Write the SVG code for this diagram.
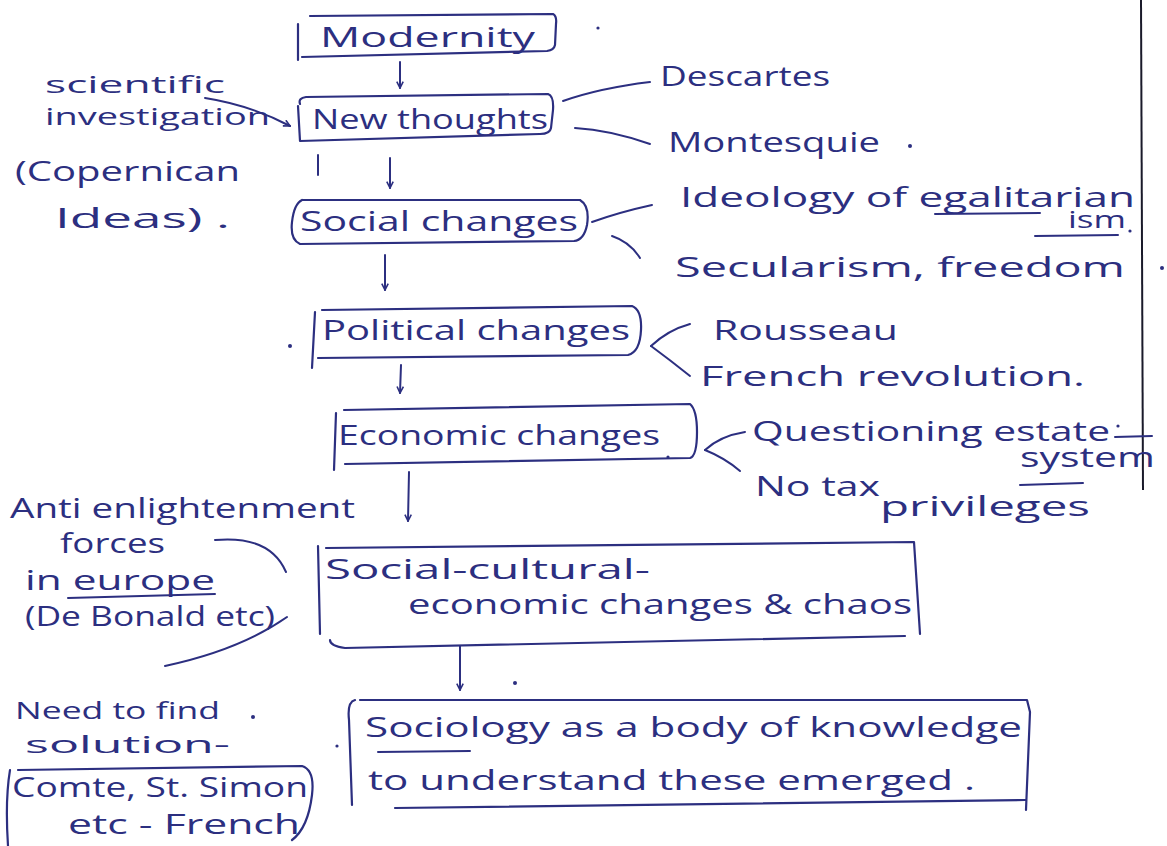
<svg xmlns="http://www.w3.org/2000/svg" width="1167" height="846" viewBox="0 0 1167 846">
<style>
.t{font-family:"Open Sans","Liberation Sans",sans-serif;fill:#2c2f80;font-size:28px;}
.s{font-size:24px;}
.m{font-size:24px;}
.b{fill:none;stroke:#2c2f80;stroke-width:2.2;stroke-linecap:round;stroke-linejoin:round;}
.c{fill:none;stroke:#2c2f80;stroke-width:2;stroke-linecap:round;}
.d{fill:#2c2f80;}
</style>
<defs>
<marker id="ah" viewBox="0 0 10 10" refX="9" refY="5" markerWidth="8" markerHeight="8" orient="auto-start-reverse" markerUnits="userSpaceOnUse">
<path d="M1,1 L9,5 L1,9" fill="none" stroke="#2c2f80" stroke-width="2"/>
</marker>
</defs>
<rect width="1167" height="846" fill="#ffffff"/>
<line x1="1141" y1="0" x2="1143" y2="490" stroke="#1a1a2a" stroke-width="2"/>

<g id="connectors">
<path class="c" d="M400,62 L400,88" marker-end="url(#ah)"/>
<path class="c" d="M390,158 L390,188" marker-end="url(#ah)"/>
<path class="c" d="M318,155 L318,175"/>
<path class="c" d="M385,255 L385,290" marker-end="url(#ah)"/>
<path class="c" d="M401,365 L400,393" marker-end="url(#ah)"/>
<path class="c" d="M409,472 L408,521" marker-end="url(#ah)"/>
<path class="c" d="M460,646 L460,690" marker-end="url(#ah)"/>
<path class="c" d="M563,101 Q600,88 650,82"/>
<path class="c" d="M575,128 Q610,130 650,144"/>
<path class="c" d="M592,222 Q620,212 652,205"/>
<path class="c" d="M612,236 Q630,242 640,258"/>
<path class="c" d="M651,346 Q668,330 690,324"/>
<path class="c" d="M651,346 Q670,360 690,376"/>
<path class="c" d="M705,450 Q720,436 745,432"/>
<path class="c" d="M705,450 Q725,458 740,471"/>
<path class="c" d="M205,98 Q250,105 290,126" marker-end="url(#ah)"/>
<path class="c" d="M215,540 Q270,535 286,572"/>
<path class="c" d="M165,666 Q240,650 287,617"/>
</g>

<g id="modernity">
<path class="b" d="M298,24 L298,60 M310,16 L553,14 Q557,16 556,24 L555,45 Q554,50 547,51 L302,57"/>
<text class="t" x="320" y="47" textLength="215" lengthAdjust="spacingAndGlyphs">Modernity</text>
</g>
<g id="new-thoughts">
<path class="b" d="M300,104 Q298,98 306,97 L548,94 Q554,96 553,110 L551,128 Q550,134 540,134 L300,141 L298,106"/>
<text class="t" x="312" y="129" textLength="236" lengthAdjust="spacingAndGlyphs">New thoughts</text>
</g>
<g id="social-changes">
<path class="b" d="M302,200 L580,200 Q590,206 587,225 Q584,240 574,241 L300,244 Q290,240 292,222 Q294,204 302,200"/>
<text class="t" x="300" y="231" textLength="278" lengthAdjust="spacingAndGlyphs">Social changes</text>
</g>
<g id="political-changes">
<path class="b" d="M315,312 L312,368 M322,310 L632,306 Q642,310 641,330 Q640,352 628,355 L318,358"/>
<circle class="d" cx="290" cy="346" r="2"/>
<text class="t" x="322" y="340" textLength="308" lengthAdjust="spacingAndGlyphs">Political changes</text>
</g>
<g id="economic-changes">
<path class="b" d="M336,413 L334,470 M344,410 L690,404 Q697,410 697,432 Q697,456 690,458 L345,464"/>
<text class="t" x="338" y="445" textLength="322" lengthAdjust="spacingAndGlyphs">Economic changes</text>
<circle class="d" cx="668" cy="457" r="1.6"/>
</g>
<g id="social-cultural-economic">
<path class="b" d="M318,546 L320,634 M326,548 L914,542 L920,634 M905,636 L345,648 Q330,646 330,640"/>
<text class="t" x="325" y="579" textLength="325" lengthAdjust="spacingAndGlyphs">Social-cultural-</text>
<text class="t" x="408" y="614" textLength="504" lengthAdjust="spacingAndGlyphs">economic changes &amp; chaos</text>
</g>
<g id="sociology">
<path class="b" d="M355,700 Q347,702 349,720 L352,805 M360,700 L1027,700 L1030,712 L1026,810 M1025,800 L395,808"/>
<path class="c" d="M378,752 L470,751"/>
<circle class="d" cx="515" cy="683" r="2"/>
<circle class="d" cx="337" cy="746" r="1.6"/>
<text class="t" x="365" y="737" textLength="657" lengthAdjust="spacingAndGlyphs">Sociology as a body of knowledge</text>
<text class="t" x="368" y="790" textLength="607" lengthAdjust="spacingAndGlyphs">to understand these emerged .</text>
</g>
<g id="comte">
<path class="b" d="M10,770 Q5,800 8,846 M18,770 L302,766 Q315,770 312,795 Q308,828 292,840"/>
<text class="t" x="12" y="797" textLength="296" lengthAdjust="spacingAndGlyphs">Comte, St. Simon</text>
<text class="t" x="68" y="834" textLength="232" lengthAdjust="spacingAndGlyphs">etc - French</text>
</g>

<g id="notes-right">
<text class="t" x="660" y="86" textLength="170" lengthAdjust="spacingAndGlyphs">Descartes</text>
<text class="t" x="668" y="152" textLength="212" lengthAdjust="spacingAndGlyphs">Montesquie</text>
<circle class="d" cx="910" cy="146" r="2"/>
<circle class="d" cx="598" cy="28" r="1.6"/>
<text class="t" x="680" y="207" textLength="455" lengthAdjust="spacingAndGlyphs">Ideology of egalitarian</text>
<path class="c" d="M935,214 L1040,213"/>
<text class="t s" x="1068" y="228" textLength="58" lengthAdjust="spacingAndGlyphs">ism</text>
<path class="c" d="M1035,236 L1118,235"/>
<circle class="d" cx="1130" cy="231" r="1.6"/>
<text class="t" x="675" y="277" textLength="450" lengthAdjust="spacingAndGlyphs">Secularism, freedom</text>
<circle class="d" cx="1162" cy="268" r="2"/>
<text class="t" x="713" y="340" textLength="185" lengthAdjust="spacingAndGlyphs">Rousseau</text>
<text class="t" x="700" y="386" textLength="385" lengthAdjust="spacingAndGlyphs">French revolution.</text>
<text class="t" x="752" y="441" textLength="358" lengthAdjust="spacingAndGlyphs">Questioning estate</text>
<circle class="d" cx="1118" cy="426" r="1.6"/>
<path class="c" d="M1115,437 L1152,436"/>
<text class="t" x="1020" y="467" textLength="135" lengthAdjust="spacingAndGlyphs">system</text>
<path class="c" d="M1020,485 L1083,483"/>
<text class="t" x="755" y="496" textLength="125" lengthAdjust="spacingAndGlyphs">No tax</text>
<text class="t" x="880" y="516" textLength="210" lengthAdjust="spacingAndGlyphs">privileges</text>
</g>

<g id="notes-left">
<text class="t m" x="45" y="93" textLength="180" lengthAdjust="spacingAndGlyphs">scientific</text>
<text class="t m" x="45" y="125" textLength="225" lengthAdjust="spacingAndGlyphs">investigation</text>
<text class="t" x="15" y="181" textLength="225" lengthAdjust="spacingAndGlyphs">(Copernican</text>
<text class="t" x="55" y="228" textLength="175" lengthAdjust="spacingAndGlyphs">Ideas) .</text>
<text class="t" x="10" y="518" textLength="345" lengthAdjust="spacingAndGlyphs">Anti enlightenment</text>
<text class="t" x="60" y="553" textLength="105" lengthAdjust="spacingAndGlyphs">forces</text>
<text class="t" x="25" y="590" textLength="190" lengthAdjust="spacingAndGlyphs">in europe</text>
<path class="c" d="M68,598 L215,594"/>
<text class="t" x="25" y="626" textLength="250" lengthAdjust="spacingAndGlyphs">(De Bonald etc)</text>
<text class="t m" x="15" y="719" textLength="205" lengthAdjust="spacingAndGlyphs">Need to find</text>
<text class="t m" x="25" y="753" textLength="205" lengthAdjust="spacingAndGlyphs">solution-</text>
<circle class="d" cx="253" cy="717" r="2"/>
</g>
</svg>
